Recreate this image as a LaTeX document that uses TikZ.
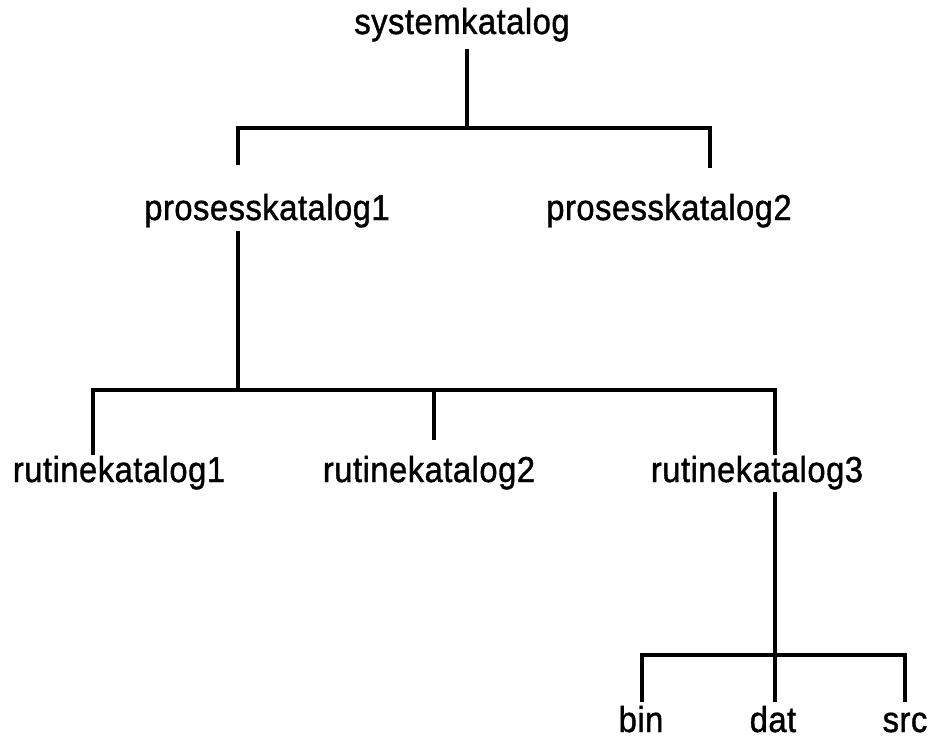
\documentclass[tikz,border=0pt]{standalone}
\usepackage{fontspec}
\newfontfamily\treefont[FakeBold=1.2,LetterSpace=1.5]{Liberation Sans}
\newcommand\dirname[1]{\scalebox{0.91}[1]{#1}}
\begin{document}
\begin{tikzpicture}[x=1pt,y=-1pt,
    lbl/.style={anchor=base, inner sep=0pt, font=\treefont\fontsize{36}{42}\selectfont},
    edge/.style={line width=3.4pt, line cap=butt, line join=miter}]
  \useasboundingbox (0,0) rectangle (933,738);

  % directory names
  \node[lbl] (sys) at (462,34)  {\dirname{systemkatalog}};
  \node[lbl] (p1)  at (267,220) {\dirname{prosesskatalog1}};
  \node[lbl] (p2)  at (669,220) {\dirname{prosesskatalog2}};
  \node[lbl] (r1)  at (119,482) {\dirname{rutinekatalog1}};
  \node[lbl] (r2)  at (429,482) {\dirname{rutinekatalog2}};
  \node[lbl] (r3)  at (757,482) {\dirname{rutinekatalog3}};
  \node[lbl] (bin) at (641,732) {\dirname{bin}};
  \node[lbl] (dat) at (773,732) {\dirname{dat}};
  \node[lbl] (src) at (905,732) {\dirname{src}};

  % branch points and line ends
  \coordinate (sysout) at (467,49);
  \coordinate (sysbar) at (467,128);
  \coordinate (p1in)   at (238,165);
  \coordinate (p2in)   at (710,168);
  \coordinate (p1out)  at (238,231);
  \coordinate (p1bar)  at (238,390);
  \coordinate (r1in)   at (93,455);
  \coordinate (r2in)   at (434,440);
  \coordinate (r3in)   at (775,455);
  \coordinate (r3out)  at (775,492);
  \coordinate (r3bar)  at (775,655);
  \coordinate (binin)  at (642,702);
  \coordinate (datin)  at (775,702);
  \coordinate (srcin)  at (905,702);

  % systemkatalog -> prosesskatalog
  \draw[edge] (sysout) -- (sysbar);
  \draw[edge] (p1in) |- (sysbar) -| (p2in);
  % prosesskatalog1 -> rutinekatalog
  \draw[edge] (p1out) -- (p1bar);
  \draw[edge] (r1in) |- (p1bar) -| (r3in);
  \draw[edge] (r2in) -- (r2in |- p1bar);
  % rutinekatalog3 -> bin, dat, src
  \draw[edge] (r3out) -- (datin);
  \draw[edge] (binin) |- (r3bar) -| (srcin);
\end{tikzpicture}
\end{document}
